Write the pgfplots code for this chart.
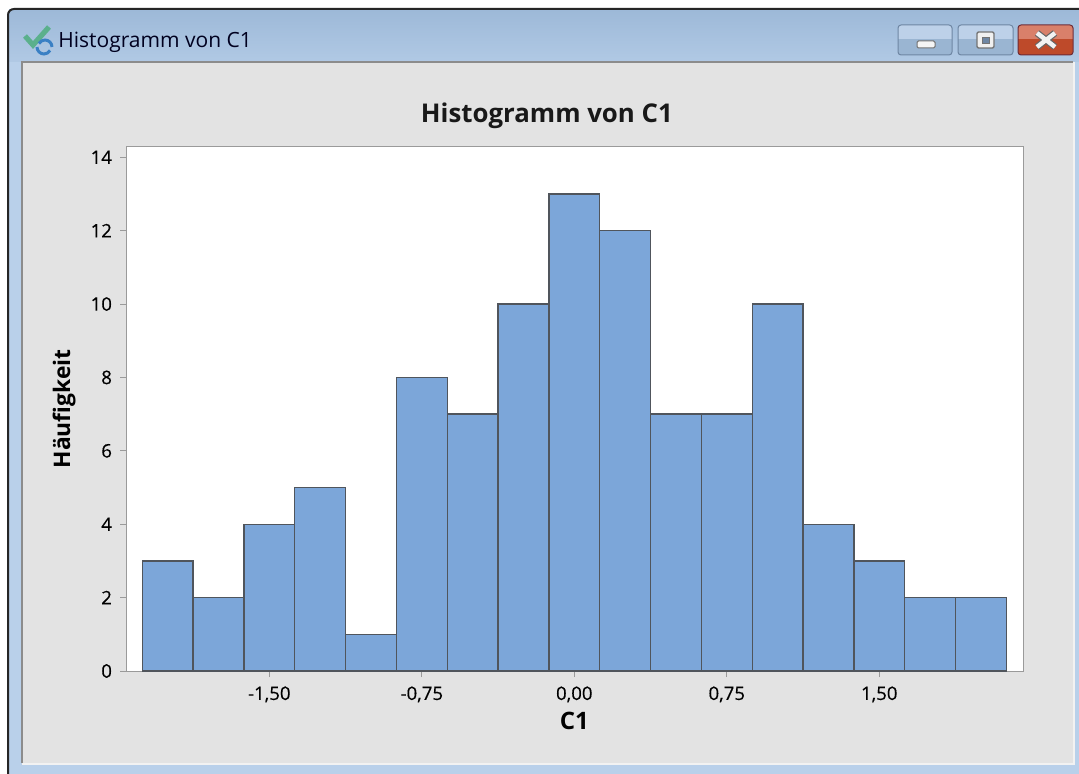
\documentclass[border=0pt]{standalone}
\usepackage{pgfplots}
\pgfplotsset{compat=1.18}
\usepackage{fontspec}
\setmainfont{Open Sans}
\newfontfamily\tickf[FakeBold=0.35]{Open Sans}
\definecolor{panel}{HTML}{E3E3E3}
\definecolor{framelt}{HTML}{B9D0EA}
\definecolor{bartop}{HTML}{9DB9D8}
\definecolor{barfill}{HTML}{7CA6D9}
\definecolor{barline}{HTML}{50555C}
\definecolor{axgray}{HTML}{9A9A9A}
\definecolor{btnhi}{HTML}{BDD1E9}
\definecolor{btnlo}{HTML}{9AB5D2}
\definecolor{btnedge}{HTML}{6E86A3}
\definecolor{clshi}{HTML}{D9806A}
\definecolor{clslo}{HTML}{BE4A2A}
\definecolor{clsedge}{HTML}{6E2A35}
\definecolor{icong}{HTML}{5BB08C}
\definecolor{iconb}{HTML}{3A80C4}
\begin{document}
\begin{tikzpicture}
\begin{scope}[x=0.5pt,y=-0.5pt]
\path[use as bounding box] (0,0) rectangle (1079,774);
\fill[white] (0,0) rectangle (1079,774);
% window frame
\fill[framelt] (9,62) rectangle (1079,774);
\fill[top color=bartop, bottom color=framelt!70!bartop] (9,10) rectangle (1079,62);
\draw[black!85,line width=1pt,rounded corners=3pt] (8,774) -- (8,9) -- (1079,9);
% inner panel
\fill[panel] (22,62) rectangle (1073,763);
\draw[gray!90,line width=1.1pt] (22,763) -- (22,62) -- (1073,62);
\draw[white!90!gray,line width=0.7pt] (22,764) -- (1074,764) -- (1074,62);
% icon
\draw[icong,line width=2.6pt] (25,36) -- (33,45) -- (49,27);
\draw[iconb,line width=1.5pt] (37,47) arc (180:30:7);
\draw[iconb,line width=1.5pt] (52,47) arc (0:-150:7);
\node[anchor=base west,inner sep=0pt,font=\fontsize{10.5}{12}\selectfont,text=black!88!blue] at (58,48) {Histogramm von C1};
% buttons
\begin{scope}
\clip[rounded corners=1.5pt] (898,25) rectangle (952,55);
\fill[btnhi] (898,25) rectangle (952,39); \fill[btnlo] (898,39) rectangle (952,55);
\end{scope}
\draw[btnedge,rounded corners=1.5pt,line width=0.5pt] (898,25) rectangle (952,55);
\begin{scope}
\clip[rounded corners=1.5pt] (958,25) rectangle (1013,55);
\fill[btnhi] (958,25) rectangle (1013,39); \fill[btnlo] (958,39) rectangle (1013,55);
\end{scope}
\draw[btnedge,rounded corners=1.5pt,line width=0.5pt] (958,25) rectangle (1013,55);
\begin{scope}
\clip[rounded corners=1.5pt] (1018,25) rectangle (1073,55);
\fill[clshi] (1018,25) rectangle (1073,39); \fill[clslo] (1018,39) rectangle (1073,55);
\end{scope}
\draw[clsedge,rounded corners=1.5pt,line width=0.5pt] (1018,25) rectangle (1073,55);
\fill[white!92!gray,draw=black!55,rounded corners=0.7pt,line width=0.5pt] (917,41) rectangle (935,48);
\fill[white!88!gray,draw=black!55,rounded corners=0.7pt,line width=0.7pt] (977,32) rectangle (994,48);
\fill[btnedge,draw=black!55,line width=0.4pt] (982,37) rectangle (989,43);
\draw[black!60,line width=3.4pt] (1037,33) -- (1055,47) (1055,33) -- (1037,47);
\draw[white!90!gray,line width=2.2pt] (1037,33) -- (1055,47) (1055,33) -- (1037,47);
\end{scope}
\begin{axis}[
  at={(63pt,-335.5pt)},anchor=south west,scale only axis,
  width=448.7pt,height=262pt,
  xmin=-2.205,xmax=2.209,ymin=0,ymax=14.28,
  axis background/.style={fill=white},
  axis line style={axgray,line width=0.5pt},
  axis lines*=box,
  xtick={-1.5,-0.75,0,0.75,1.5},
  xticklabels={{-1,50},{-0,75},{0,00},{0,75},{1,50}},
  ytick={0,2,...,14},
  tick align=outside,
  xtick pos=bottom,ytick pos=left,
  major tick length=3pt,
  tick style={axgray,line width=0.5pt},
  /pgf/number format/assume math mode=true,
  ticklabel style={font=\tickf\fontsize{9.3}{11}\selectfont,text=black},
  xticklabel style={yshift=-1.2pt},
  yticklabel style={xshift=-0.5pt},
  title={Histogramm von C1},
  title style={at={(axis description cs:0.469,1)},anchor=base,yshift=6pt,font=\fontsize{12.9}{15}\bfseries\selectfont,text=black!90},
  xlabel={C1},
  xlabel style={at={(axis description cs:0.4995,0)},anchor=base,yshift=-29pt,font=\fontsize{12}{14}\bfseries\selectfont},
  ylabel={Häufigkeit},
  ylabel style={at={(axis description cs:0,0.5)},rotate=0,anchor=base,yshift=28pt,font=\fontsize{11.4}{13}\bfseries\selectfont},
  clip=false,
]
\addplot[ybar,bar width=0.25,bar shift=0pt,fill=barfill,draw=barline,line width=0.7pt] coordinates {
(-2.00,3)(-1.75,2)(-1.50,4)(-1.25,5)(-1.00,1)(-0.75,8)(-0.50,7)(-0.25,10)(0.00,13)(0.25,12)(0.50,7)(0.75,7)(1.00,10)(1.25,4)(1.50,3)(1.75,2)(2.00,2)};
\end{axis}
\end{tikzpicture}
\end{document}
